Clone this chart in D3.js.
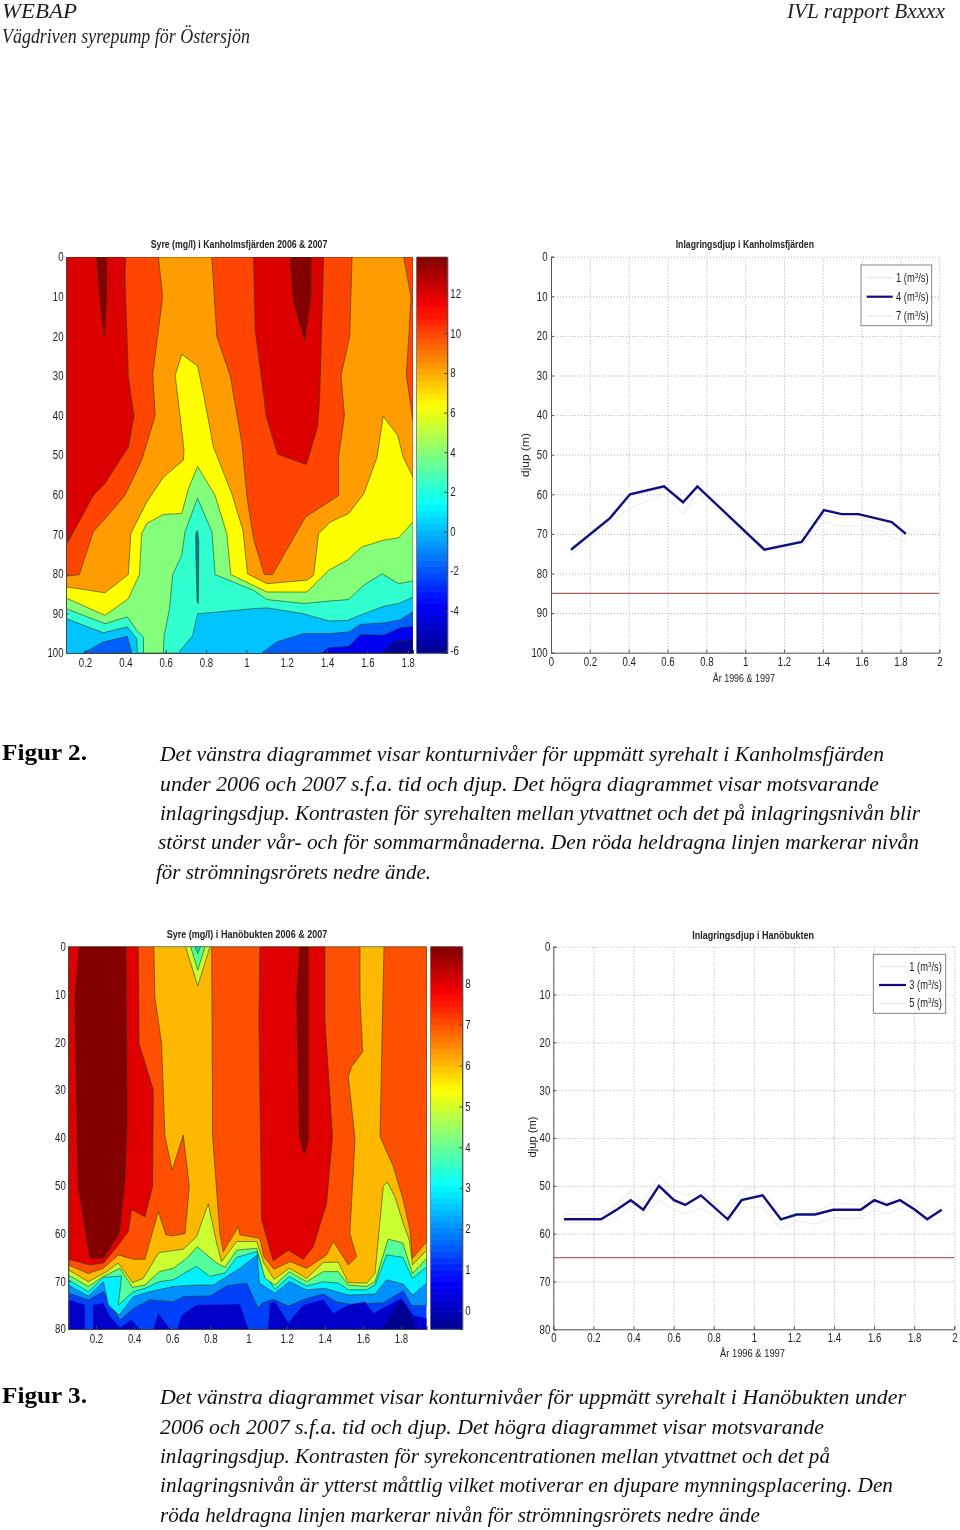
<!DOCTYPE html>
<html><head><meta charset="utf-8">
<script src="https://cdnjs.cloudflare.com/ajax/libs/d3/7.8.5/d3.min.js"></script>
<style>html,body{margin:0;padding:0;background:#fff}svg{display:block}</style>
</head><body><svg id="page" width="960" height="1530"></svg>
<script>
// ---------- Figure 2 left: contour bands [time, depth]
const kAqua=[[.106,91.3],[.291,94.9],[.41,93.4],[.457,96.4],[.46,100],[.663,100],[.734,95.6],[.758,90.1],[1.036,88.8],[1.102,88.6],[1.284,90.1],[1.408,91.9],[1.499,91.8],[1.582,90.1],[1.681,88.2],[1.755,87.5],[1.826,85.9],[1.826,0],[.106,0]];
const kGreen=[[.106,88.8],[.299,92.6],[.41,90.9],[.457,94.3],[.49,96],[.49,100],[.589,100],[.592,95.8],[.619,88.8],[.635,80.2],[.68,75.3],[.696,69.4],[.758,60.9],[.829,69.4],[.845,80.2],[1.036,84.2],[1.102,86.5],[1.284,87.5],[1.408,86.9],[1.507,86.5],[1.582,82.9],[1.673,80],[1.755,82.5],[1.826,81.8],[1.826,0],[.106,0]];
const kYellow=[[.106,86.1],[.299,90.5],[.415,86.3],[.47,80.2],[.481,69.9],[.506,67.3],[.589,65],[.68,64.8],[.713,58.5],[.758,52.9],[.845,60.2],[.903,69.9],[.923,80.2],[1.102,84.6],[1.3,84.6],[1.408,79.1],[1.499,76.6],[1.573,73.2],[1.681,71.5],[1.755,70.9],[1.826,66.9],[1.826,0],[.106,0]];
const kOrange=[[.106,0],[1.826,0],[1.826,55.6],[1.777,50.5],[1.75,45],[1.678,40.2],[1.648,50.5],[1.582,59.8],[1.507,64.8],[1.416,66.9],[1.358,69.9],[1.333,80.4],[1.3,81.6],[1.102,82.5],[1.006,80],[.983,69],[.928,59.8],[.837,48],[.787,34.5],[.758,27.5],[.68,24.6],[.647,29.9],[.672,40.4],[.691,48.8],[.688,51.3],[.589,55.6],[.506,61.9],[.427,69.9],[.415,80.2],[.299,84.8],[.106,83.3]];
const kRedOrangeA=[[.106,0],[.564,0],[.585,10.1],[.536,29.5],[.548,40],[.481,51.3],[.398,60.2],[.299,66.1],[.241,69.4],[.172,80.2],[.106,80.6]];
const kRedOrangeB=[[.829,0],[.854,20.2],[.92,29.9],[.978,47.1],[1.003,60.6],[1.036,71.2],[1.089,80.2],[1.13,80.2],[1.292,65.7],[1.457,60.2],[1.457,50.5],[1.486,40],[1.469,29.9],[1.512,20.2],[1.524,0]];
const kRedOrangeC=[[1.78,0],[1.816,10.1],[1.805,20.2],[1.793,29.9],[1.826,41.2],[1.826,0]];
const kRedA=[[.106,0],[.403,0],[.398,4.2],[.415,30.3],[.443,40.2],[.415,48],[.299,57.2],[.241,60.2],[.192,64.9],[.106,72.8]];
const kRedB=[[1.036,0],[1.044,18.5],[1.089,36.2],[1.098,40.2],[1.155,49.8],[1.297,52.4],[1.353,42.9],[1.363,36.2],[1.383,0]];
const kDeepA=[[.258,0],[.274,10.1],[.296,20],[.308,10.1],[.308,0]];
const kDeepB=[[1.218,0],[1.234,10.9],[1.289,21],[1.32,10.1],[1.32,0]];
const kSliver=[[.749,69.9],[.758,69],[.764,72],[.762,87.5],[.756,87],[.75,76]];
const kBlueA=[[.192,100],[.291,97.2],[.41,95.8],[.432,100]];
const kBlueB=[[1.077,100],[1.151,97.2],[1.284,95.1],[1.408,95.1],[1.507,94.7],[1.565,92.8],[1.681,92.4],[1.763,91.6],[1.826,89.6],[1.826,100]];
const kNavy=[[1.375,100],[1.408,98.7],[1.507,98.3],[1.568,95.3],[1.681,95.5],[1.763,93.6],[1.826,93.3],[1.826,100]];
const kDeepNavy=[[1.673,100],[1.73,97.2],[1.826,96.6],[1.826,100]];

// ---------- Figure 2 right: depth series
const kTime=[.103,.304,.407,.582,.68,.754,1.099,1.291,1.406,1.497,1.583,1.67,1.755,1.828];
const kFlow4=[74,66,60,58,62,58,74,72,64,65,65,66,67,70];
const kFlow1=[75.3,67,63.5,60,65,59.5,74.5,73,67,68,68,68,71,72];
const kFlow7=[73.5,65.5,60.5,58.5,62,58.5,73.5,71.5,65,66,66,67,69,71];
const kPipeDepth=[85];
const kLegend=["1","4","7"];

// ---------- Figure 3 left: contour bands [time, depth]
const hAzure=[[.055,72.5],[.16,73.9],[.239,72.2],[.326,78.1],[.396,75.7],[.483,73.9],[.606,74.3],[.658,73.2],[.798,73.1],[.885,71],[.99,70.4],[1.052,75.7],[1.069,74.6],[1.13,73.8],[1.209,75.2],[1.305,73.6],[1.393,72.7],[1.463,74.3],[1.532,74.8],[1.707,74.5],[1.812,72],[1.856,75.1],[1.935,75.1],[1.935,0],[.055,0]];
const hCyan=[[.055,70.8],[.16,73.1],[.239,70.1],[.265,75],[.322,77.1],[.396,73.2],[.483,72.2],[.606,71.1],[.728,70.8],[.816,70.8],[.955,67.3],[1.046,64.5],[1.057,70.4],[1.139,72.5],[1.214,70.1],[1.305,71.8],[1.401,71.5],[1.524,72.9],[1.664,72.7],[1.725,69.7],[1.812,70.6],[1.861,72.9],[1.935,70.4],[1.935,0],[.055,0]];
const hGreen=[[.055,69.7],[.16,72.2],[.239,69.2],[.335,68.9],[.317,75],[.396,72.2],[.457,71.5],[.532,70.1],[.606,69.7],[.676,68],[.728,66.9],[.798,69],[.877,68.3],[.938,65],[1.043,63.8],[1.087,68.5],[1.139,71.7],[1.214,69],[1.305,71],[1.393,70.1],[1.471,70.4],[1.524,71.8],[1.62,71.8],[1.664,70.8],[1.725,64.5],[1.809,65],[1.861,69.4],[1.935,67],[1.935,0],[.055,0]];
const hYellow=[[.055,68.7],[.16,71.1],[.239,69],[.326,67.3],[.392,71.3],[.457,70.8],[.532,68],[.606,67.3],[.676,65.2],[.732,62.8],[.833,66.2],[.877,67.1],[.938,63.5],[1.043,63.1],[1.087,69.4],[1.139,70.8],[1.214,68],[1.305,70.1],[1.393,68],[1.471,68],[1.524,70.8],[1.62,71.1],[1.664,70.1],[1.733,61.2],[1.809,62],[1.861,68.4],[1.935,65.2],[1.935,0],[.055,0]];
const hAmber=[[.055,67.6],[.16,70.1],[.256,68],[.317,66.2],[.392,70.3],[.448,69.4],[.53,64],[.658,63.3],[.728,60.7],[.789,53.8],[.833,62],[.859,65.9],[.938,61.7],[1.043,61.7],[1.081,66.2],[1.134,69.6],[1.214,67.3],[1.305,69.4],[1.393,66.1],[1.471,66],[1.524,70.3],[1.62,70.4],[1.664,68.3],[1.707,50.2],[1.728,49.2],[1.768,52.3],[1.812,57.9],[1.844,61.4],[1.861,66.6],[1.935,63.5],[1.935,0],[.055,0]];
const hRedOrangeA=[[.055,0],[.504,0],[.509,10.5],[.544,20.2],[.562,39.7],[.6,46.7],[.658,39.4],[.69,50.2],[.667,60],[.606,60.5],[.567,60.3],[.527,55.4],[.457,65.4],[.396,65.4],[.317,64.5],[.239,67.3],[.16,68.4],[.055,66.6]];
const hRedOrangeB=[[.807,0],[.812,39.7],[.85,60],[.868,63.8],[.947,58.6],[.955,60.3],[1.06,61],[1.081,64.9],[1.134,67.5],[1.218,65.9],[1.305,67.3],[1.41,64.5],[1.445,61.7],[1.524,66.6],[1.567,64.9],[1.532,60],[1.559,40.4],[1.524,27.2],[1.541,25.1],[1.599,22],[1.585,10.5],[1.585,0]];
const hRedOrangeC=[[1.711,0],[1.69,39.7],[1.76,46],[1.812,53],[1.847,59.3],[1.861,65.2],[1.935,61.7],[1.935,0]];
const hRedA=[[.055,0],[.422,0],[.426,20.2],[.501,30],[.497,50.2],[.457,56.5],[.387,55],[.37,59.6],[.305,63.1],[.239,66.2],[.169,66.6],[.055,65.4]];
const hRedB=[[1.06,0],[1.055,15.3],[1.069,57.2],[1.13,65.7],[1.209,63.5],[1.288,65.4],[1.34,62.8],[1.41,53.7],[1.441,39.7],[1.401,15.3],[1.401,0]];
const hDeepA=[[.113,0],[.09,10.5],[.107,50.2],[.169,65.1],[.239,65.2],[.322,60],[.352,48.8],[.364,36.3],[.357,0]];
const hDeepB=[[1.27,0],[1.253,9.8],[1.267,39.7],[1.293,43.4],[1.314,40.4],[1.314,0]];
const hConeOuter=[[.67,0],[.734,8.2],[.798,0]];
const hConeMiddle=[[.697,0],[.734,4.9],[.772,0]];
const hConeInner=[[.719,0],[.734,1.4],[.749,0]];
const hNavyA=[[.055,73.9],[.142,75],[.142,80],[.055,80]];
const hNavyB=[[.186,75],[.239,74.6],[.273,77.4],[.326,79.7],[.387,78.1],[.431,80],[.186,80]];
const hNavyC=[[.501,80],[.527,76.7],[.588,80]];
const hNavyD=[[.627,80],[.65,77.1],[.728,75],[.955,74.8],[.999,80]];
const hNavyE=[[1.104,79.8],[1.113,74.6],[1.139,74.3],[1.209,78.7],[1.288,75],[1.393,73.9],[1.445,76.7],[1.524,75],[1.611,74.3],[1.655,76.7],[1.803,73.6],[1.865,77.1],[1.935,77.8],[1.935,80],[1.104,80]];
const hDeepNavy=[[1.698,80],[1.76,76.4],[1.803,73.6],[1.856,77.4],[1.873,80]];

// ---------- Figure 3 right: depth series
const hTime=[.053,.238,.316,.386,.449,.527,.602,.658,.736,.87,.939,1.044,1.135,1.214,1.305,1.396,1.533,1.601,1.663,1.729,1.804,1.865,1.937];
const hFlow3=[57,57,55,53,55,50,53,54,52,57,53,52,57,56,56,55,55,53,54,53,55,57,55];
const hFlow1=[56,56,54,51,53.5,48,51,52,51,56,51,50,56,55.8,55.5,53.5,54,52,53.5,52,54,56,54.5];
const hFlow5=[57.7,57.7,56.5,54.5,56,53,55,55.8,54.7,57.5,54.5,54.5,59,57.3,58,56.8,56.8,55,55.8,54.7,55.8,57.5,56.8];
const hPipeDepth=[65];
const hLegend=["1","3","5"];

// ---------- Text
const headerLeft=["WEBAP","Vägdriven syrepump för Östersjön"];
const headerRight="IVL rapport Bxxxx";
const fig2Label="Figur 2.", fig3Label="Figur 3.";
const fig2Lines=["Det vänstra diagrammet visar konturnivåer för uppmätt syrehalt i Kanholmsfjärden","under 2006 och 2007 s.f.a. tid och djup. Det högra diagrammet visar motsvarande","inlagringsdjup. Kontrasten för syrehalten mellan ytvattnet och det på inlagringsnivån blir","störst under vår- och för sommarmånaderna. Den röda heldragna linjen markerar nivån","för strömningsrörets nedre ände."];
const fig3Lines=["Det vänstra diagrammet visar konturnivåer för uppmätt syrehalt i Hanöbukten under","2006 och 2007 s.f.a. tid och djup. Det högra diagrammet visar motsvarande","inlagringsdjup. Kontrasten för syrekoncentrationen mellan ytvattnet och det på","inlagringsnivån är ytterst måttlig vilket motiverar en djupare mynningsplacering. Den","röda heldragna linjen markerar nivån för strömningsrörets nedre ände"];
const xTicksContour=[.2,.4,.6,.8,1,1.2,1.4,1.6,1.8];
const xTicksLine=[0,.2,.4,.6,.8,1,1.2,1.4,1.6,1.8,2];
const depthTicksK=d3.range(0,101,10), depthTicksH=d3.range(0,81,10);
const cbTicksK=[12,10,8,6,4,2,0,-2,-4,-6], cbTicksH=[8,7,6,5,4,3,2,1,0];

// ---------- Rendering
const svg=d3.select("#page");
svg.append("rect").attr("width",960).attr("height",1530).attr("fill","#fff");
const AXB='"Liberation Sans",Arial,sans-serif';
const SERIF='"Liberation Serif",serif';
const defs=svg.append("defs");
defs.append("filter").attr("id","soft").append("feGaussianBlur").attr("stdDeviation",.35);

function fit(sel,x,y,w,txt,o={}){
  return sel.append("text").attr("x",x).attr("y",y).text(txt)
    .attr("textLength",w).attr("lengthAdjust","spacingAndGlyphs")
    .attr("font-family",o.f||SERIF).attr("font-size",o.s||22)
    .attr("font-style",o.i?"italic":null).attr("font-weight",o.b?"bold":null)
    .attr("fill",o.c||"#111");
}
function styleAxis(g){
  g.selectAll("text").attr("font-family",AXB).attr("font-size",12).attr("fill","#222")
   .each(function(){d3.select(this).attr("textLength",this.getComputedTextLength()*.8).attr("lengthAdjust","spacingAndGlyphs");});
}
const jet=d3.scaleLinear().domain([0,.125,.375,.625,.875,1])
  .range(["#00008f","#0000ff","#00ffff","#ffff00","#ff0000","#800000"]);

function contourPanel(c){
  const id=c.id;
  const g=svg.append("g").attr("filter","url(#soft)");
  const x=d3.scaleLinear().domain(c.xd).range([c.l,c.r]);
  const y=d3.scaleLinear().domain(c.yd).range([c.t,c.b]);
  defs.append("clipPath").attr("id",id).append("rect").attr("x",c.l).attr("y",c.t).attr("width",c.r-c.l).attr("height",c.b-c.t);
  const path=d3.line().x(d=>x(d[0])).y(d=>y(d[1]));
  const body=g.append("g").attr("clip-path",`url(#${id})`);
  body.append("rect").attr("x",c.l).attr("y",c.t).attr("width",c.r-c.l).attr("height",c.b-c.t).attr("fill",c.base);
  body.selectAll("path").data(c.layers).join("path")
    .attr("d",d=>path(d.p)+"Z").attr("fill",d=>d.c)
    .attr("stroke",d=>d.n?"none":"#1f3a14").attr("stroke-opacity",.72).attr("stroke-width",.8);
  const ax=g.append("g").attr("transform",`translate(0,${c.b})`).call(d3.axisBottom(x).tickValues(xTicksContour).tickSize(-3).tickPadding(c.xp).tickFormat(d3.format("~g")));
  ax.select(".domain").attr("stroke","#444");ax.selectAll("line").attr("stroke","#444");styleAxis(ax);
  const ay=g.append("g").attr("transform",`translate(${c.l},0)`).call(d3.axisLeft(y).tickValues(c.yticks).tickSize(-3).tickPadding(2.5));
  ay.select(".domain").attr("stroke","#444");ay.selectAll("line").attr("stroke","#444");styleAxis(ay);
  // colour bar
  const cb=d3.scaleLinear().domain(c.cd).range([c.b,c.t]);
  const rows=d3.range(64);
  const step=(c.cd[1]-c.cd[0])/64;
  g.append("g").selectAll("rect").data(rows).join("rect")
    .attr("x",c.cbl).attr("width",c.cbr-c.cbl)
    .attr("y",i=>cb(c.cd[0]+(i+1)*step)).attr("height",i=>cb(c.cd[0]+i*step)-cb(c.cd[0]+(i+1)*step)+.6)
    .attr("fill",i=>jet((i+.5)/64));
  const cax=g.append("g").attr("transform",`translate(${c.cbr},0)`).call(d3.axisRight(cb).tickValues(c.cticks).tickSize(-3).tickPadding(3).tickFormat(d=>String(d)));
  cax.select(".domain").attr("stroke","#444");cax.selectAll("line").attr("stroke","#444");styleAxis(cax);
  g.append("rect").attr("x",c.cbl).attr("y",c.t).attr("width",c.cbr-c.cbl).attr("height",c.b-c.t).attr("fill","none").attr("stroke","#444").attr("stroke-width",.6);
  fit(g,c.tx,c.ty,c.tw,c.title,{f:AXB,s:11.5,b:true,c:"#222"});
}
function linePanel(c){
  const g=svg.append("g").attr("filter","url(#soft)");
  const x=d3.scaleLinear().domain([0,2]).range([c.l,c.r]);
  const y=d3.scaleLinear().domain(c.yd).range([c.t,c.b]);
  const gx=g.append("g").attr("transform",`translate(0,${c.b})`).call(d3.axisBottom(x).tickValues(xTicksLine).tickSize(-(c.b-c.t)).tickFormat(()=>""));
  gx.select(".domain").remove();
  gx.selectAll("line").attr("stroke","#a8a8a8").attr("stroke-dasharray","1,2").attr("stroke-width",.9);
  const gy=g.append("g").attr("transform",`translate(${c.l},0)`).call(d3.axisLeft(y).tickValues(c.yticks).tickSize(-(c.r-c.l)).tickFormat(()=>""));
  gy.select(".domain").remove();
  gy.selectAll("line").attr("stroke","#a8a8a8").attr("stroke-dasharray","1,2").attr("stroke-width",.9);
  const line=d3.line().x(d=>x(d[0])).y(d=>y(d[1]));
  const zip=v=>c.time.map((t,i)=>[t,v[i]]);
  g.append("path").attr("d",line(zip(c.s1))).attr("fill","none").attr("stroke","#eeeeea").attr("stroke-width",1.1);
  g.append("path").attr("d",line(zip(c.s3))).attr("fill","none").attr("stroke","#eeeeea").attr("stroke-width",1.1);
  g.append("path").attr("d",line(zip(c.s2))).attr("fill","none").attr("stroke","#0e0e80").attr("stroke-width",2.4);
  g.selectAll("line.pipe").data(c.pipe).join("line").attr("class","pipe")
    .attr("x1",c.l).attr("x2",c.r).attr("y1",d=>y(d)).attr("y2",d=>y(d)).attr("stroke",c.pipeColor).attr("stroke-width",1.2);
  const ax=g.append("g").attr("transform",`translate(0,${c.b})`).call(d3.axisBottom(x).tickValues(xTicksLine).tickSize(-3).tickPadding(c.xp).tickFormat(d3.format("~g")));
  ax.select(".domain").attr("stroke","#555");ax.selectAll("line").attr("stroke","#555");styleAxis(ax);
  const ay=g.append("g").attr("transform",`translate(${c.l},0)`).call(d3.axisLeft(y).tickValues(c.yticks).tickSize(-3).tickPadding(c.yp));
  ay.select(".domain").attr("stroke","#555");ay.selectAll("line").attr("stroke","#555");styleAxis(ay);
  fit(g,c.tx,c.ty,c.tw,c.title,{f:AXB,s:11.5,b:true,c:"#222"});
  fit(g,c.xlx,c.xly,c.xlw,"År 1996 & 1997",{f:AXB,s:11.5,c:"#222"});
  g.append("text").attr("transform",`translate(${c.ylx},${c.yly}) rotate(-90)`).attr("text-anchor","middle")
    .attr("font-family",AXB).attr("font-size",11.5).attr("fill","#222").attr("textLength",c.ylw).attr("lengthAdjust","spacingAndGlyphs").text("djup (m)");
  // legend
  const L=c.leg;
  g.append("rect").attr("x",L.x).attr("y",L.y).attr("width",L.w).attr("height",L.h).attr("fill","#fff").attr("stroke","#777").attr("stroke-width",.9);
  c.legend.forEach((t,i)=>{
    const yy=L.rows[i];
    g.append("line").attr("x1",L.lx).attr("x2",L.lx+L.ll).attr("y1",yy).attr("y2",yy)
      .attr("stroke",i==1?"#0e0e80":"#e6e6e2").attr("stroke-width",i==1?2.2:1.1);
    const tx=g.append("text").attr("transform",`translate(${L.tx},${yy+4}) scale(.78,1)`).attr("font-family",AXB).attr("font-size",12).attr("fill","#222");
    tx.append("tspan").text(t+" (m");
    tx.append("tspan").attr("dy",-4).attr("font-size",8).text("3");
    tx.append("tspan").attr("dy",4).text("/s)");
  });
}

contourPanel({id:"ck",l:66,r:413,t:257,b:653,xd:[.106,1.826],yd:[0,100],yticks:depthTicksK,xp:5,
  base:"#00c4ff",cbl:416.7,cbr:447.3,cd:[-6.13,13.85],cticks:cbTicksK,
  title:"Syre (mg/l) i Kanholmsfjärden 2006 & 2007",tx:150.7,ty:248,tw:176.6,
  layers:[{p:kAqua,c:"#30ffd0"},{p:kGreen,c:"#84ff7c"},{p:kYellow,c:"#ffff00"},{p:kOrange,c:"#ff9c00"},
   {p:kRedOrangeA,c:"#ff4400"},{p:kRedOrangeB,c:"#ff4400"},{p:kRedOrangeC,c:"#ff4400"},
   {p:kRedA,c:"#dc0000"},{p:kRedB,c:"#dc0000"},{p:kDeepA,c:"#840000"},{p:kDeepB,c:"#840000"},
   {p:kSliver,c:"#0c7f9a"},{p:kBlueA,c:"#0060ff"},{p:kBlueB,c:"#0060ff"},{p:kNavy,c:"#0000f0"},{p:kDeepNavy,c:"#00009c"}]});

contourPanel({id:"ch",l:68.3,r:426.7,t:946.7,b:1329,xd:[.055,1.935],yd:[0,80],yticks:depthTicksH,xp:5,
  base:"#0040f8",cbl:430.7,cbr:462.3,cd:[-.449,8.91],cticks:cbTicksH,
  title:"Syre (mg/l) i Hanöbukten 2006 & 2007",tx:166.7,ty:938,tw:160.6,
  layers:[{p:hAzure,c:"#0090ff"},{p:hCyan,c:"#00f0ff"},{p:hGreen,c:"#54ff9c"},{p:hYellow,c:"#ccff30"},{p:hAmber,c:"#ffb800"},
   {p:hRedOrangeA,c:"#ff5000"},{p:hRedOrangeB,c:"#ff5000"},{p:hRedOrangeC,c:"#ff5000"},
   {p:hRedA,c:"#e00000"},{p:hRedB,c:"#e00000"},{p:hDeepA,c:"#840000"},{p:hDeepB,c:"#840000"},
   {p:hConeOuter,c:"#ccff30"},{p:hConeMiddle,c:"#54ff9c"},{p:hConeInner,c:"#20d8c0"},
   {p:hNavyA,c:"#0000c8",n:1},{p:hNavyB,c:"#0000c8",n:1},{p:hNavyC,c:"#0000c8",n:1},{p:hNavyD,c:"#0000c8",n:1},{p:hNavyE,c:"#0000c8",n:1},{p:hDeepNavy,c:"#000090",n:1}]});

linePanel({l:551,r:939.3,t:256.7,b:652.7,yd:[0,100],yticks:depthTicksK,time:kTime,s1:kFlow1,s2:kFlow4,s3:kFlow7,pipe:kPipeDepth,pipeColor:"#b05c5c",xp:5,yp:3.5,
  title:"Inlagringsdjup i Kanholmsfjärden",tx:675.7,ty:248,tw:138.3,xlx:712.7,xly:681.5,xlw:62.3,ylx:529,yly:455,ylw:44,legend:kLegend,
  leg:{x:861,y:265,w:70.7,h:60.7,rows:[277.7,296.7,316],lx:866.7,ll:26,tx:896}});
linePanel({l:553.3,r:954.3,t:946.7,b:1329.3,yd:[0,80],yticks:depthTicksH,time:hTime,s1:hFlow1,s2:hFlow3,s3:hFlow5,pipe:hPipeDepth,pipeColor:"#c85c5c",xp:4,yp:3,
  title:"Inlagringsdjup i Hanöbukten",tx:692.3,ty:939,tw:121.7,xlx:720,xly:1356.5,xlw:65,ylx:535.5,yly:1137,ylw:41,legend:hLegend,
  leg:{x:873.3,y:954.3,w:72.4,h:59,rows:[966.7,985,1003.3],lx:879,ll:27,tx:909.3}});

// page text
const T=svg.append("g").attr("filter","url(#soft)");
fit(T,2,18,75,headerLeft[0],{i:true,s:20,c:"#222"});
fit(T,2,43,248,headerLeft[1],{i:true,s:21,c:"#222"});
fit(T,787,18,158,headerRight,{i:true,s:20,c:"#222"});
fit(T,2,760,85,fig2Label,{b:true,s:23,c:"#000"});
fit(T,2,1403,85,fig3Label,{b:true,s:23,c:"#000"});
const fig2X=[160,160,160,158,156],fig2W=[724,719,760,761,275];
const fig3X=[160,160,160,160,160],fig3W=[746,664,670,733,600];
const fig2Y=[761,790.5,819.5,849,878.5],fig3Y=[1404,1433.5,1463,1492,1521.5];
fig2Lines.forEach((t,i)=>fit(T,fig2X[i],fig2Y[i],fig2W[i],t,{i:true,s:22,c:"#111"}));
fig3Lines.forEach((t,i)=>fit(T,fig3X[i],fig3Y[i],fig3W[i],t,{i:true,s:22,c:"#111"}));
</script></body></html>
